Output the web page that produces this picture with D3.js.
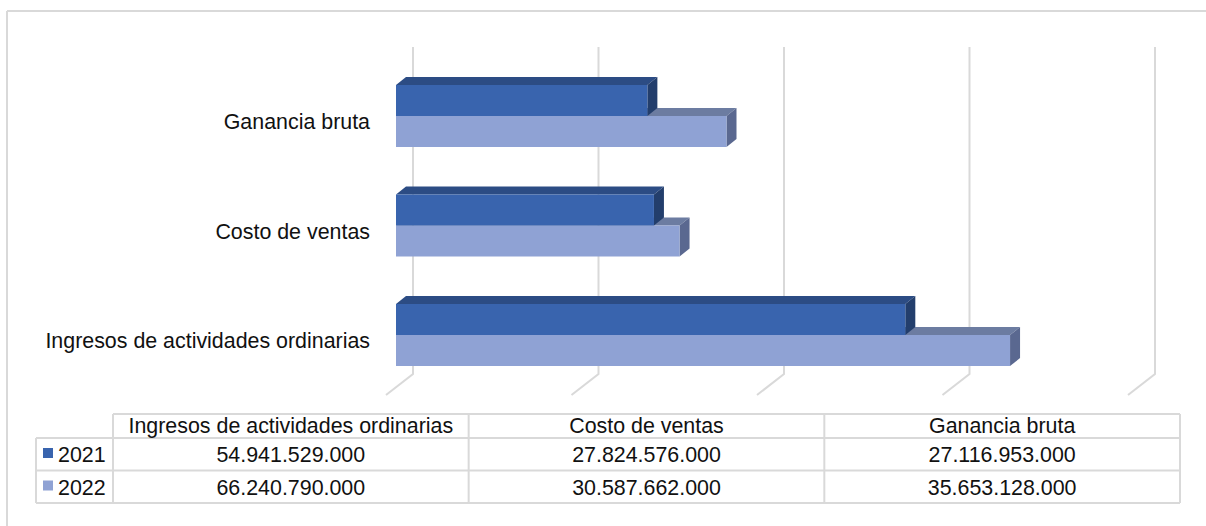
<!DOCTYPE html>
<html>
<head>
<meta charset="utf-8">
<script src="https://cdn.jsdelivr.net/npm/d3@7"></script>
<style>
  body { margin: 0; background: #fff; }
  text { font-family: "Liberation Sans", Arial, sans-serif; fill: #111; }
</style>
</head>
<body>
<script>
// data
var categories = ["Ingresos de actividades ordinarias", "Costo de ventas", "Ganancia bruta"];
var years = ["2021", "2022"];
var values2021 = [54941529000, 27824576000, 27116953000];
var values2022 = [66240790000, 30587662000, 35653128000];
var axisTicks = [0, 20e9, 40e9, 60e9, 80e9];

var width = 1206, height = 526;
var fontSize = 21.4;

var colors = {
  "2021": { front: "#3964ae", top: "#2c4c84", side: "#233e6c" },
  "2022": { front: "#8fa2d4", top: "#6c7ca1", side: "#5a6890" }
};

var svg = d3.select("body").append("svg")
    .attr("width", width)
    .attr("height", height);

// chart border (only top + left are visible in the crop)
svg.append("line").attr("x1", 7).attr("y1", 11).attr("x2", width).attr("y2", 11)
  .attr("stroke", "#d9d9d9").attr("stroke-width", 2);
svg.append("line").attr("x1", 7).attr("y1", 11).attr("x2", 7).attr("y2", height)
  .attr("stroke", "#d9d9d9").attr("stroke-width", 2);

// scales: back wall and front of bars
var xBack = d3.scaleLinear().domain([0, 80e9]).range([413, 1155]);
var xFront = d3.scaleLinear().domain([0, 80e9]).range([396, 396 + 741.6]);
var order = categories.slice().reverse(); // top to bottom
var yC = d3.scalePoint().domain(order).range([116, 335]);

var barH = 31, dx = 10, dy = -8;

// gridlines
var grid = svg.append("g");
axisTicks.forEach(function(t) {
  var x = xBack(t);
  grid.append("polyline")
    .attr("points", [[x, 47], [x, 374], [x - 27, 395]].map(function(p){ return p.join(","); }).join(" "))
    .attr("fill", "none")
    .attr("stroke", "#d9d9d9")
    .attr("stroke-width", 2);
});

function bar(g, y, v, c) {
  var x0 = xFront(0), x1 = xFront(v);
  g.append("polygon")
    .attr("points", [[x0, y], [x0 + dx, y + dy], [x1 + dx, y + dy], [x1, y]].join(" "))
    .attr("fill", c.top);
  g.append("polygon")
    .attr("points", [[x1, y], [x1 + dx, y + dy], [x1 + dx, y + barH + dy], [x1, y + barH]].join(" "))
    .attr("fill", c.side);
  g.append("rect")
    .attr("x", x0).attr("y", y)
    .attr("width", x1 - x0).attr("height", barH)
    .attr("fill", c.front);
}

var bars = svg.append("g");
categories.forEach(function(cat, i) {
  var cy = yC(cat);
  // lower (2022) first, then 2021 on top of it
  bar(bars, cy, values2022[i], colors["2022"]);
  bar(bars, cy - barH, values2021[i], colors["2021"]);
});

// category labels
svg.append("g").selectAll("text")
  .data(categories)
  .enter().append("text")
    .attr("x", 370)
    .attr("y", function(d) { return yC(d) + 13; })
    .attr("text-anchor", "end")
    .attr("font-size", fontSize)
    .text(function(d) { return d; });

// data table
var fmt = d3.formatLocale({ decimal: ",", thousands: ".", grouping: [3], currency: ["", ""] }).format(",d");
var colX = d3.scaleBand().domain(categories).range([113, 1180]);
var rowTop = 414, headH = 24, rowH = 32.5, legendLeft = 36;
var tbl = svg.append("g");
var bc = "#d9d9d9";

function ln(x1, y1, x2, y2) {
  tbl.append("line").attr("x1", x1).attr("y1", y1).attr("x2", x2).attr("y2", y2)
    .attr("stroke", bc).attr("stroke-width", 2);
}
var tBottom = rowTop + headH + rowH * 2;
ln(113, rowTop, 1180, rowTop);
ln(legendLeft, rowTop + headH, 1180, rowTop + headH);
ln(legendLeft, rowTop + headH + rowH, 1180, rowTop + headH + rowH);
ln(legendLeft, tBottom, 1180, tBottom);
ln(legendLeft, rowTop + headH, legendLeft, tBottom);
categories.forEach(function(c) { ln(colX(c), rowTop, colX(c), tBottom); });
ln(1180, rowTop, 1180, tBottom);

categories.forEach(function(c) {
  tbl.append("text")
    .attr("x", colX(c) + colX.bandwidth() / 2)
    .attr("y", rowTop + 19)
    .attr("text-anchor", "middle")
    .attr("font-size", fontSize)
    .text(c);
});

var series = [values2021, values2022];
years.forEach(function(yr, r) {
  var top = rowTop + headH + rowH * r;
  tbl.append("rect")
    .attr("x", 43).attr("y", top + 10)
    .attr("width", 10).attr("height", 10)
    .attr("fill", colors[yr].front);
  tbl.append("text")
    .attr("x", 58).attr("y", top + 24)
    .attr("font-size", fontSize)
    .text(yr);
  categories.forEach(function(c, i) {
    tbl.append("text")
      .attr("x", colX(c) + colX.bandwidth() / 2)
      .attr("y", top + 24)
      .attr("text-anchor", "middle")
      .attr("font-size", fontSize)
      .text(fmt(series[r][i]));
  });
});
</script>
</body>
</html>
